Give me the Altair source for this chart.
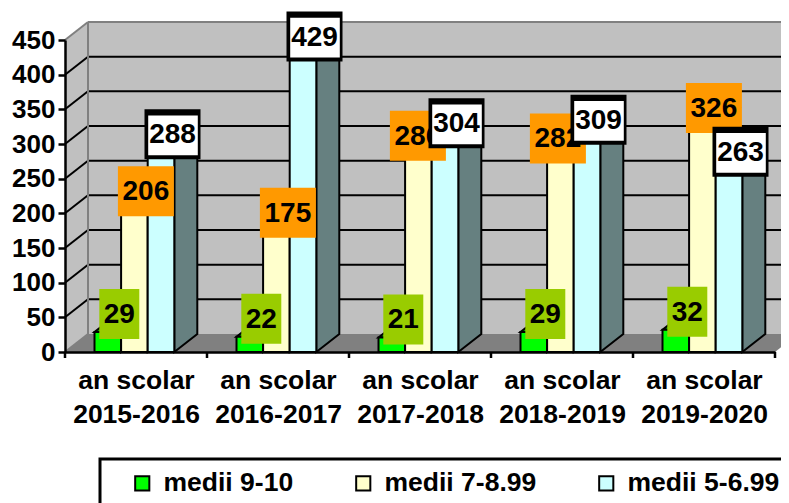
import altair as alt
import pandas as pd

categories = ["2015-2016", "2016-2017", "2017-2018", "2018-2019", "2019-2020"]
series_names = ["medii 9-10", "medii 7-8.99", "medii 5-6.99"]
medii_9_10 = [29, 22, 21, 29, 32]
medii_7_899 = [206, 175, 286, 282, 326]
medii_5_699 = [288, 429, 304, 309, 263]
series_values = [medii_9_10, medii_7_899, medii_5_699]
front_colors = ["#00FF00", "#FFFFCC", "#CCFFFF"]
side_colors = ["#008000", "#808066", "#668080"]
top_colors = ["#00B000", "#CCCCA3", "#A3CCCC"]
box_colors = ["#99CC00", "#FF9900", "#FFFFFF"]
y_ticks = [0, 50, 100, 150, 200, 250, 300, 350, 400, 450]
# the original's hand-moved data labels (pixels to the left), per series and year
label_nudges = [[0, 0, 0, 0, 0], [0, 0, 12, 14, 0], [0, 0, 0, 0, 0]]

W, H = 710, 312
PPC = W / 5
PPV = H / 450
DX = 23 / PPC
DY = 18 / PPV
BAR = 26.6 / PPC
GAP = 29.5 / PPC
XMAX = 5.4
FONT = "Liberation Sans"

x_scale = alt.Scale(domain=[0, 5], nice=False, zero=False)
y_scale = alt.Scale(domain=[0, 450], nice=False, zero=False)
cat_js = "[" + ",".join("'" + c + "'" for c in categories) + "]"
x_axis = alt.Axis(
    values=[0.5, 1.5, 2.5, 3.5, 4.5],
    title=None,
    grid=False,
    domainWidth=2.5,
    domainColor="black",
    tickSize=0,
    labelExpr="['an scolar', " + cat_js + "[floor(datum.value)]]",
    labelFont=FONT,
    labelFontWeight="bold",
    labelFontSize=26.5,
    labelColor="black",
    labelLineHeight=34,
    labelPadding=15,
    labelBaseline="top",
    labelOverlap=False,
    labelFlush=False,
    zindex=1,
)
y_axis = alt.Axis(
    values=y_ticks,
    title=None,
    grid=False,
    domainWidth=2.5,
    domainColor="black",
    tickColor="black",
    tickWidth=2.5,
    tickSize=7,
    labelFont=FONT,
    labelFontWeight="bold",
    labelFontSize=26,
    labelColor="black",
    labelPadding=3,
    labelOverlap=False,
    labelFlush=False,
    zindex=1,
)
X = alt.X("x:Q", scale=x_scale, axis=x_axis)
Y = alt.Y("y:Q", scale=y_scale, axis=y_axis)


def poly(points):
    return alt.Data(values=[{"x": a, "y": b, "y2": c, "id": i} for a, b, c, i in points])


def area(rows, fill, stroke=None, sw=2):
    kw = {"fill": fill, "strokeWidth": sw, "strokeJoin": "miter"}
    if stroke:
        kw["stroke"] = stroke
    return alt.Chart(poly(rows)).mark_area(**kw).encode(
        x=X, y=Y, y2=alt.Y2("y2:Q"), detail="id:N"
    )


# walls and floor
wall_left = area([(0, 0, 450, 0), (DX, DY, 450 + DY, 0)], "#C0C0C0")
wall_back = area([(DX, DY, 450 + DY, 0), (XMAX, DY, 450 + DY, 0)], "#C0C0C0")
floor = area(
    [(0, 0, 0, 0), (DX, 0, DY, 0), (5, 0, DY, 0), (5 + DX, DY, DY, 0)], "#808080"
)

grid_df = pd.DataFrame({"v": y_ticks})
grid_df["y"] = grid_df.v + DY
grid_df["x"] = DX
grid_df["x2"] = XMAX
grid = alt.Chart(grid_df[(grid_df.v > 0) & (grid_df.v < 450)]).mark_rule(
    color="black", strokeWidth=2
).encode(x=X, x2="x2:Q", y=Y)

diag_rows = []
for v in y_ticks:
    diag_rows += [{"x": 0, "y": v, "v": v}, {"x": DX, "y": v + DY, "v": v}]
diag_df = pd.DataFrame(diag_rows)
diag = alt.Chart(diag_df[(diag_df.v > 0) & (diag_df.v < 450)]).mark_line(
    color="black", strokeWidth=2
).encode(x=X, y=Y, detail="v:N")
diag_top = alt.Chart(diag_df[diag_df.v == 450]).mark_line(
    color="#808080", strokeWidth=2
).encode(x=X, y=Y)
diag_bottom = alt.Chart(diag_df[diag_df.v == 0]).mark_line(
    color="#808080", strokeWidth=2
).encode(x=X, y=Y)

back_top = alt.Chart(pd.DataFrame({"x": [DX], "x2": [XMAX], "y": [450 + DY]})).mark_rule(
    color="#808080", strokeWidth=2
).encode(x=X, x2="x2:Q", y=Y)
back_left = alt.Chart(pd.DataFrame({"x": [DX], "y": [DY], "y2": [450 + DY]})).mark_rule(
    color="#808080", strokeWidth=2
).encode(x=X, y=Y, y2="y2:Q")

# bars
bar_layers = []
for j, (name, vals) in enumerate(zip(series_names, series_values)):
    top_rows, side_rows, front_rows = [], [], []
    for i, v in enumerate(vals):
        x0 = i + GAP + j * BAR
        x1 = x0 + BAR
        side_rows += [(x1, 0, v, i), (x1 + DX, DY, v + DY, i)]
        top_rows += [
            (x0, v, v, i),
            (x0 + DX, v, v + DY, i),
            (x1, v, v + DY, i),
            (x1 + DX, v + DY, v + DY, i),
        ]
        front_rows.append({"x": x0, "x2": x1, "y": v, "y2": 0, "serie": name})
    bar_layers.append(area(top_rows, top_colors[j], "black"))
    bar_layers.append(area(side_rows, side_colors[j], "black"))
    bar_layers.append(
        alt.Chart(pd.DataFrame(front_rows))
        .mark_rect(stroke="black", strokeWidth=2)
        .encode(
            x=X,
            x2="x2:Q",
            y=Y,
            y2="y2:Q",
            fill=alt.Fill(
                "serie:N",
                scale=alt.Scale(domain=series_names, range=front_colors),
                legend=alt.Legend(
                    title=None,
                    orient="none",
                    legendX=54,
                    legendY=420,
                    direction="horizontal",
                    columns=3,
                    columnPadding=56,
                    symbolType="square",
                    symbolSize=200,
                    symbolStrokeColor="black",
                    symbolStrokeWidth=2,
                    symbolOpacity=1,
                    labelFont=FONT,
                    labelFontWeight="bold",
                    labelFontSize=26.5,
                    labelColor="black",
                    labelLimit=300,
                    labelOffset=8,
                    padding=10,
                ),
            ),
        )
    )

# value boxes
box_layers = []
for j, vals in enumerate(series_values):
    rows = []
    for i, v in enumerate(vals):
        xc = i + GAP + (j + 0.5) * BAR + DX / 2 - label_nudges[j][i] / PPC
        yc = v + DY
        hw = (28 if v >= 100 else 20) / PPC
        hh = 25 / PPV
        rows.append(
            dict(x=xc - hw, x2=xc + hw, y=yc - hh, y2=yc + hh, tx=xc, ty=yc, label=str(v))
        )
    df = pd.DataFrame(rows)
    box_layers.append(
        alt.Chart(df).mark_rect(fill="black" if j == 2 else box_colors[j]).encode(
            x=X, x2="x2:Q", y=Y, y2="y2:Q"
        )
    )
    if j == 2:
        inner = df.copy()
        inner["x"] = df.x + 3.7 / PPC
        inner["x2"] = df.x2 - 2.7 / PPC
        inner["y"] = df.y + 4 / PPV
        inner["y2"] = df.y2 - 6.3 / PPV
        box_layers.append(
            alt.Chart(inner).mark_rect(fill="#FFFFFF").encode(
                x=X, x2="x2:Q", y=Y, y2="y2:Q"
            )
        )
    box_layers.append(
        alt.Chart(df)
        .mark_text(font=FONT, fontWeight="bold", fontSize=28, color="black", baseline="middle", dy=1)
        .encode(
            x=alt.X("tx:Q", scale=x_scale, axis=x_axis),
            y=alt.Y("ty:Q", scale=y_scale, axis=y_axis),
            text="label:N",
        )
    )

xticks = alt.Chart(pd.DataFrame({"x": list(range(6))})).mark_rule(
    color="black", strokeWidth=2.5
).encode(x=X, y=alt.value(H), y2=alt.value(H + 6))

legend_box = alt.Chart(pd.DataFrame({"a": [0]})).mark_rect(
    fill="transparent", stroke="black", strokeWidth=3
).encode(x=alt.value(35), x2=alt.value(800), y=alt.value(419), y2=alt.value(520))

chart = alt.layer(
    wall_left, wall_back, floor, grid, diag, diag_top, diag_bottom, back_top, back_left,
    *bar_layers, *box_layers, xticks, legend_box,
).properties(
    width=W,
    height=H,
    padding={"left": 57, "top": 32, "right": 6, "bottom": 151},
    autosize=alt.AutoSizeParams(type="none"),
    background="white",
).configure_view(stroke=None)

chart.save("out.html", embed_options={"renderer": "svg", "actions": False})
